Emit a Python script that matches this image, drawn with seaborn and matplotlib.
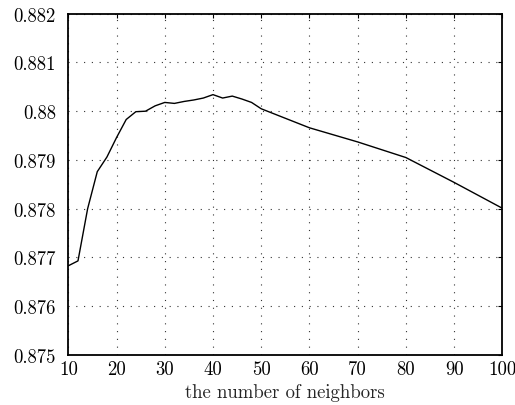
import matplotlib
matplotlib.use("Agg")
import matplotlib.pyplot as plt
import seaborn as sns
import pandas as pd

# k values and accuracy
neighbors = [10, 12, 14, 16, 18, 20, 22, 24, 26, 28, 30, 32, 34, 36, 38, 40,
             42, 44, 46, 48, 50, 60, 70, 80, 90, 100]
accuracy = [0.87683, 0.87693, 0.87800, 0.87876, 0.87906, 0.87946, 0.87983,
            0.87999, 0.88000, 0.88011, 0.88018, 0.88016, 0.88020, 0.88023,
            0.88027, 0.88034, 0.88027, 0.88031, 0.88025, 0.88018, 0.88005,
            0.87966, 0.87937, 0.87905, 0.87854, 0.87801]

x_ticks = [10, 20, 30, 40, 50, 60, 70, 80, 90, 100]
y_ticks = [0.875, 0.876, 0.877, 0.878, 0.879, 0.880, 0.881, 0.882]
y_labels = ["0.875", "0.876", "0.877", "0.878", "0.879", "0.88", "0.881", "0.882"]

df = pd.DataFrame({"k": neighbors, "acc": accuracy})

sns.set_style("white")
plt.rcParams["font.family"] = ["cmr10", "DejaVu Serif"]
plt.rcParams["axes.formatter.use_mathtext"] = True

fig, ax = plt.subplots(figsize=(5.15, 4.06), dpi=100)
fig.subplots_adjust(left=0.1327, right=0.9753, top=0.9638, bottom=0.1232)

sns.lineplot(data=df, x="k", y="acc", color="black", linewidth=1.0, ax=ax)

ax.set_xlim(10, 100)
ax.set_ylim(0.875, 0.882)
ax.set_xticks(x_ticks)
ax.set_xticklabels([str(t) for t in x_ticks])
ax.set_yticks(y_ticks)
ax.set_yticklabels(y_labels)
ax.tick_params(direction="in", length=3, width=0.8, labelsize=13.5,
               top=True, right=True, colors="black")
ax.tick_params(axis="x", pad=4)
ax.tick_params(axis="y", pad=9)
ax.grid(True, linestyle=(0, (1, 6)), color="#333333", linewidth=0.8)

for s in ax.spines.values():
    s.set_color("black")
    s.set_linewidth(1.3)

ax.set_xlabel("the number of neighbors", fontsize=13.5, labelpad=3)
ax.set_ylabel("")

plt.savefig("out.png", dpi=100)
